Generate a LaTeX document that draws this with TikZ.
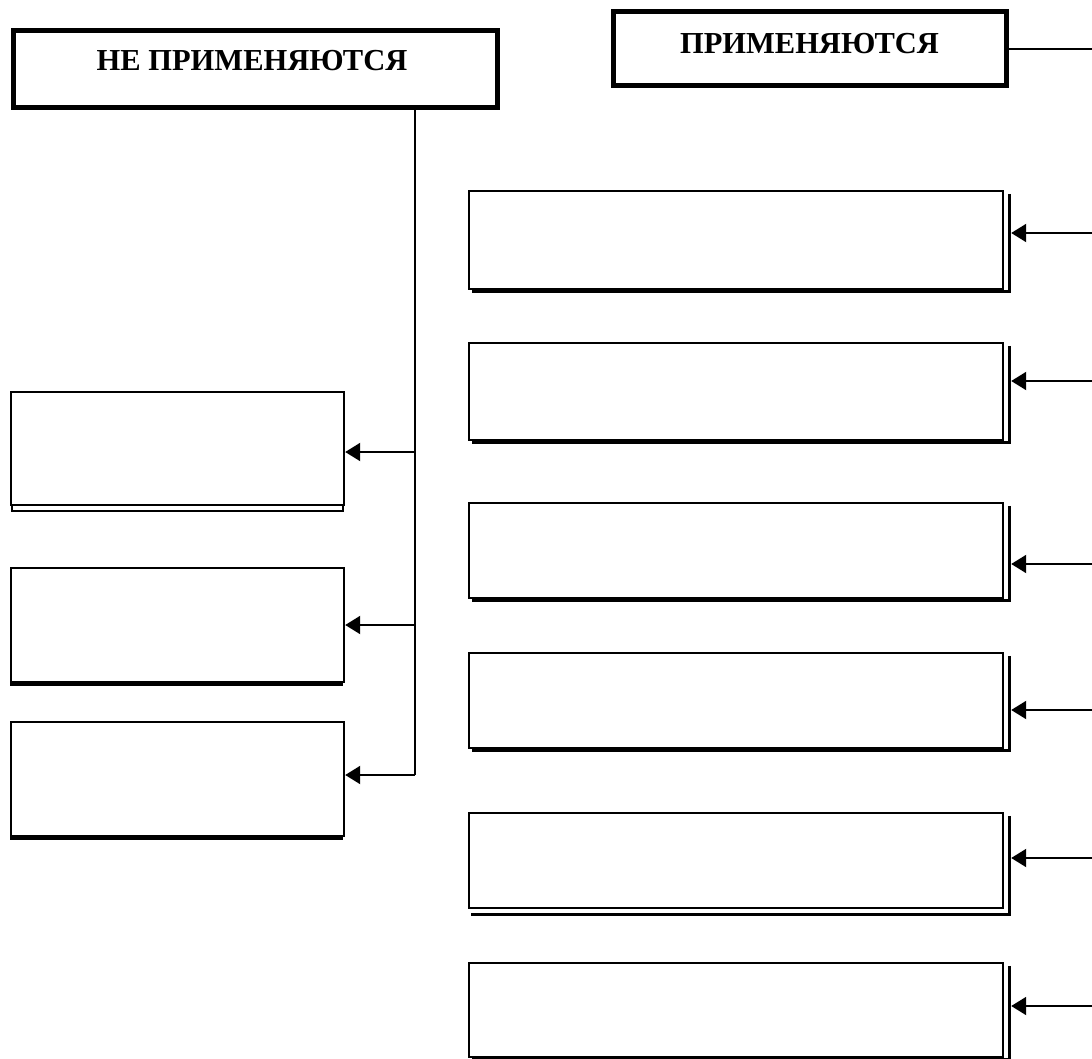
\documentclass[tikz,border=0pt]{standalone}
\usepackage{fontspec}
\setmainfont{Liberation Serif}
\usetikzlibrary{arrows.meta}
\begin{document}
\begin{tikzpicture}[x=1pt,y=-1pt,
  topbox/.style={draw, rectangle, inner sep=0pt, line width=5pt, fill=white},
  cellbox/.style={draw, rectangle, inner sep=0pt, line width=2.4pt, fill=white},
  shad/.style={draw, line width=3pt},
  conn/.style={draw, line width=2pt},
  arr/.style={conn, -{Triangle[length=15pt,width=18pt]}},
  lbl/.style={inner sep=0pt, font=\bfseries\fontsize{30.5}{36}\selectfont}
]
\useasboundingbox (0,0) rectangle (1092,1059);
\fill[white] (0,0) rectangle (1092,1059);

% top boxes
\node[topbox, minimum width=484pt, minimum height=77pt] (ne) at (255.5,69) {};
\node[lbl, anchor=base] (tne) at (252,71) {НЕ ПРИМЕНЯЮТСЯ};
\node[topbox, minimum width=393pt, minimum height=74pt] (pr) at (809.5,49) {};
\node[lbl, anchor=base] (tpr) at (809.5,54) {ПРИМЕНЯЮТСЯ};

% left boxes
\node[cellbox, minimum width=333pt, minimum height=113pt] (l1) at (177.5,448.5) {};
\node[cellbox, minimum width=333pt, minimum height=114pt] (l2) at (177.5,625) {};
\node[cellbox, minimum width=333pt, minimum height=114pt] (l3) at (177.5,779) {};
\draw[line width=2.4pt] ([xshift=2pt]l1.south west) -- ++(0,5) -- ([shift={(-2,5)}]l1.south east) -- ++(0,-5);
\draw[line width=3pt] ([xshift=2pt]l2.south west) -- ++(0,1.5) -- ([shift={(-2,1.5)}]l2.south east);
\draw[line width=3pt] ([xshift=2pt]l3.south west) -- ++(0,1.5) -- ([shift={(-2,1.5)}]l3.south east);

% right boxes
\node[cellbox, minimum width=534pt, minimum height=98pt] (r1) at (736,240) {};
\node[cellbox, minimum width=534pt, minimum height=97pt] (r2) at (736,391.5) {};
\node[cellbox, minimum width=534pt, minimum height=95pt] (r3) at (736,550.5) {};
\node[cellbox, minimum width=534pt, minimum height=95pt] (r4) at (736,700.5) {};
\node[cellbox, minimum width=534pt, minimum height=95pt] (r5) at (736,860.5) {};
\node[cellbox, minimum width=534pt, minimum height=94pt] (r6) at (736,1010) {};
\foreach \r in {r1,r2,r3,r4,r6}{
  \draw[shad] ([shift={(5,4)}]\r.north east) -- ([shift={(5,1.5)}]\r.south east) -- ([shift={(4,1.5)}]\r.south west);
}
\draw[shad] ([shift={(5,4)}]r5.north east) |- ([shift={(3,5)}]r5.south west);

% left trunk
\coordinate (tx) at (415,0);
\coordinate (b1) at (415,452);
\coordinate (b2) at (415,625);
\coordinate (b3) at (415,775);
\draw[conn] (ne.south -| tx) -- (b3);
\draw[arr] (b1) -- (b1 -| l1.east);
\draw[arr] (b2) -- (b2 -| l2.east);
\draw[arr] (b3) -- (b3 -| l3.east);

% right side
\coordinate (edge) at (1092,0);
\draw[conn] (pr.east) -- (pr.east -| edge);
\coordinate (a1) at (1092,233);
\coordinate (a2) at (1092,381);
\coordinate (a3) at (1092,564);
\coordinate (a4) at (1092,710);
\coordinate (a5) at (1092,858);
\coordinate (a6) at (1092,1006);
\draw[arr] (a1) -- ([xshift=7pt]a1 -| r1.east);
\draw[arr] (a2) -- ([xshift=7pt]a2 -| r2.east);
\draw[arr] (a3) -- ([xshift=7pt]a3 -| r3.east);
\draw[arr] (a4) -- ([xshift=7pt]a4 -| r4.east);
\draw[arr] (a5) -- ([xshift=7pt]a5 -| r5.east);
\draw[arr] (a6) -- ([xshift=7pt]a6 -| r6.east);
\end{tikzpicture}
\end{document}
